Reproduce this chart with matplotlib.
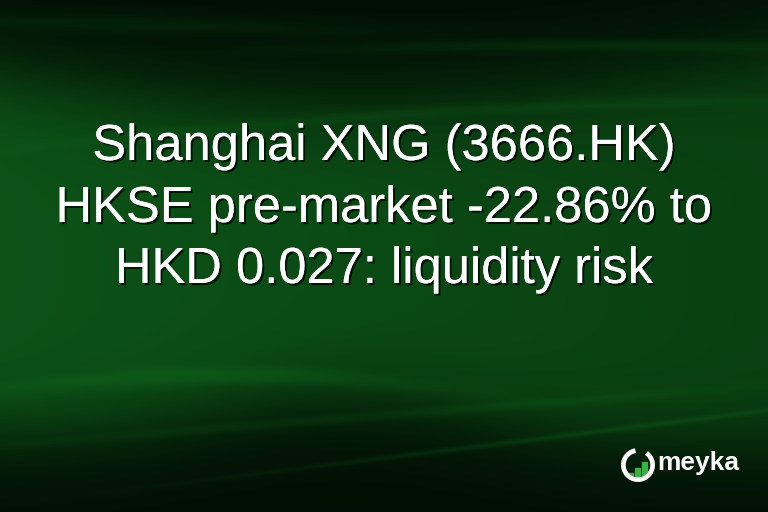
import numpy as np
import matplotlib
matplotlib.use("Agg")
import matplotlib.pyplot as plt
import matplotlib.patheffects as pe
from matplotlib.patches import Arc, Rectangle, Circle

# headline lines and where their baselines sit (pixels from top)
title_lines = ["Shanghai XNG (3666.HK)",
               "HKSE pre-market -22.86% to",
               "HKD 0.027: liquidity risk"]
title_baselines = [160, 222, 283]
brand = "meyka"
logo_bars = [0.55, 0.85, 1.15]

W, H = 768, 512

fig = plt.figure(figsize=(7.68, 5.12), dpi=100)

# background: dark top / bottom, green band in the middle, some soft waves
bg = fig.add_axes([0, 0, 1, 1])
bg.set_axis_off()
yy, xx = np.mgrid[0:H, 0:W].astype(float)
xn = xx / W
top_edge = 75 + 40 * np.sin(np.pi * xn) - 20 * xn
bot_edge = 435 - 40 * np.exp(-((xn - 0.45) / 0.25) ** 2) + 10 * xn
sig = lambda v: 1 / (1 + np.exp(-v))
inten = sig((yy - top_edge) / 24) * sig((bot_edge - yy) / 22)
inten *= 1.1 - 0.3 * xn
inten = 0.08 + 0.92 * inten

dark = np.array([0.008, 0.04, 0.012])
green = np.array([0.045, 0.30, 0.085])
img = dark + (green - dark) * inten[..., None]

# faint lighter streaks
def streak(yc, width, amp):
    return amp * np.exp(-((yy - yc) / width) ** 2)

def fade(c, w):
    return np.exp(-((xn - c) / w) ** 2)

glow = np.zeros((H, W))
glow += streak(62 - 45 * xn + 30 * xn ** 2, 6, 0.35) * fade(0.75, 0.35)
glow += streak(20 + 20 * xn, 10, 0.25) * fade(0.2, 0.3)
glow += streak(150 - 90 * xn + 40 * xn ** 2, 6, 0.25) * fade(0.6, 0.5)
glow += streak(395 + 160 * (xn - 0.3) ** 2 - 20, 9, 0.35) * fade(0.3, 0.3)
glow += streak(505 - 95 * xn, 3, 0.4) * fade(0.7, 0.4)
glow += streak(445 - 60 * xn, 5, 0.25) * fade(0.5, 0.5)
img = img + glow[..., None] * np.array([0.02, 0.20, 0.045])
img = np.clip(img, 0, 1)
bg.imshow(img, extent=[0, W, H, 0], aspect="auto", interpolation="bilinear")
bg.set_xlim(0, W)
bg.set_ylim(H, 0)

shadow = [pe.withSimplePatchShadow(offset=(1.5, -1.5), shadow_rgbFace="black", alpha=0.7),
          pe.Normal()]

for line, base in zip(title_lines, title_baselines):
    fig.text(0.5, 1 - base / H, line, ha="center", va="baseline",
             color="white", fontsize=36.5, family="Liberation Sans",
             path_effects=shadow)

# logo
lg = fig.add_axes([621 / W, 1 - 482 / H, 34 / W, 34 / H])
lg.set_axis_off()
lg.set_xlim(-1, 1)
lg.set_ylim(-1, 1)
clip = Circle((0, 0), 0.72, transform=lg.transData)
for i, h in enumerate(logo_bars):
    r = Rectangle((-0.58 + i * 0.42, -1), 0.28, h, color="#3cb043")
    lg.add_patch(r)
    r.set_clip_path(clip)
lg.add_patch(Arc((0, 0), 1.72, 1.72, theta1=100, theta2=55, color="white", lw=3.4))

fig.text(657 / W, 1 - 470 / H, brand, ha="left", va="baseline", color="white",
         fontsize=19, fontweight="bold", family="Liberation Sans")

fig.savefig("out.png", dpi=100)
